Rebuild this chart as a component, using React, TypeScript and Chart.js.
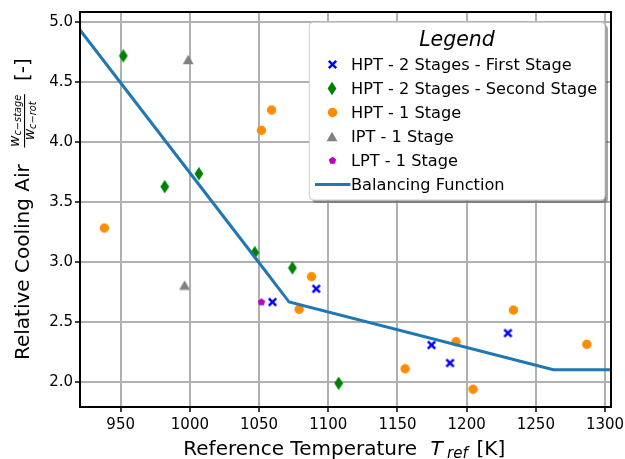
import React, { useEffect, useRef } from "react";
import { Chart, registerables } from "chart.js";

Chart.register(...registerables);

// ---------- data ----------
const xTicks = [950, 1000, 1050, 1100, 1150, 1200, 1250, 1300];
const yTicks = [2.0, 2.5, 3.0, 3.5, 4.0, 4.5, 5.0];
const xMin = 920.6;
const xMax = 1304.3;
const yMin = 1.789;
const yMax = 5.086;

const hpt2FirstX = [1059.7, 1091.3, 1174.6, 1188.0, 1229.8];
const hpt2FirstY = [2.665, 2.776, 2.306, 2.156, 2.406];

const hpt2SecondX = [951.9, 981.8, 1006.5, 1046.9, 1074.1, 1107.5];
const hpt2SecondY = [4.72, 3.628, 3.736, 3.078, 2.95, 1.987];

const hpt1X = [938.2, 1051.7, 1059.0, 1078.9, 1087.9, 1155.5, 1192.3, 1204.6, 1233.8, 1286.8];
const hpt1Y = [3.283, 4.098, 4.268, 2.604, 2.877, 2.108, 2.334, 1.937, 2.598, 2.312];

const iptX = [998.8, 996.2];
const iptY = [4.69, 2.807];

const lptX = [1051.7];
const lptY = [2.665];

const balX = [920.6, 1050.0, 1071.7, 1262.7, 1304.3];
const balY = [4.936, 2.993, 2.665, 2.1, 2.1];

const legendLabels = [
  "HPT - 2 Stages - First Stage",
  "HPT - 2 Stages - Second Stage",
  "HPT - 1 Stage",
  "IPT - 1 Stage",
  "LPT - 1 Stage",
  "Balancing Function",
];

const FONT = '"DejaVu Sans"';

function makeMarker(w: number, h: number, draw: (c: CanvasRenderingContext2D) => void) {
  const c = document.createElement("canvas");
  c.width = w;
  c.height = h;
  const ctx = c.getContext("2d")!;
  draw(ctx);
  return c;
}

function pts(xs: number[], ys: number[]) {
  return xs.map((x, i) => ({ x, y: ys[i] }));
}

export default function App() {
  const ref = useRef<HTMLCanvasElement>(null);

  useEffect(() => {
    document.body.style.margin = "0";
    const canvas = ref.current!;

    const cross = makeMarker(11, 11, (c) => {
      c.strokeStyle = "#0000ff";
      c.lineWidth = 2.5;
      c.beginPath();
      c.moveTo(1.8, 1.8);
      c.lineTo(9.2, 9.2);
      c.moveTo(9.2, 1.8);
      c.lineTo(1.8, 9.2);
      c.stroke();
    });
    const diamond = makeMarker(10, 15, (c) => {
      c.fillStyle = "#008000";
      c.beginPath();
      c.moveTo(5, 0.8);
      c.lineTo(9.4, 7.5);
      c.lineTo(5, 14.2);
      c.lineTo(0.6, 7.5);
      c.closePath();
      c.fill();
    });
    const circle = makeMarker(11, 11, (c) => {
      c.fillStyle = "#ff8c00";
      c.beginPath();
      c.arc(5.5, 5.5, 4.7, 0, Math.PI * 2);
      c.fill();
    });
    const triangle = makeMarker(12, 11, (c) => {
      c.fillStyle = "#808080";
      c.beginPath();
      c.moveTo(6, 0.7);
      c.lineTo(11.4, 10.3);
      c.lineTo(0.6, 10.3);
      c.closePath();
      c.fill();
    });
    const pentagon = makeMarker(9, 9, (c) => {
      c.fillStyle = "#bf00bf";
      c.beginPath();
      for (let i = 0; i < 5; i++) {
        const a = -Math.PI / 2 + (i * 2 * Math.PI) / 5;
        const px = 4.5 + 3.9 * Math.cos(a);
        const py = 4.7 + 3.9 * Math.sin(a);
        if (i === 0) c.moveTo(px, py);
        else c.lineTo(px, py);
      }
      c.closePath();
      c.fill();
    });

    const legendMarkers: (HTMLCanvasElement | null)[] = [cross, diamond, circle, triangle, pentagon, null];

    const decor = {
      id: "decor",
      afterDatasetsDraw(chart: any) {
        const ctx: CanvasRenderingContext2D = chart.ctx;
        const a = chart.chartArea;
        ctx.save();
        // spines
        ctx.strokeStyle = "#000";
        ctx.lineWidth = 2;
        ctx.strokeRect(a.left, a.top, a.right - a.left, a.bottom - a.top);

        // legend
        const L = { x: 309.3, y: 22.3, w: 295.7, h: 177.7 };
        ctx.fillStyle = "rgba(77,77,77,0.5)";
        ctx.beginPath();
        (ctx as any).roundRect(L.x + 3, L.y + 3, L.w, L.h, 4);
        ctx.fill();
        ctx.fillStyle = "#fff";
        ctx.strokeStyle = "#cccccc";
        ctx.lineWidth = 1;
        ctx.beginPath();
        (ctx as any).roundRect(L.x, L.y, L.w, L.h, 4);
        ctx.fill();
        ctx.stroke();

        ctx.fillStyle = "#000";
        ctx.textBaseline = "alphabetic";
        ctx.textAlign = "center";
        ctx.font = `italic 20.5px ${FONT}`;
        ctx.fillText("Legend", 457, 45.5);

        ctx.textAlign = "left";
        ctx.font = `16.2px ${FONT}`;
        legendLabels.forEach((lab, i) => {
          const cy = 64.5 + 24 * i;
          const m = legendMarkers[i];
          if (m) {
            ctx.drawImage(m, Math.round(332.3 - m.width / 2), Math.round(cy - m.height / 2));
          } else {
            ctx.strokeStyle = "#1f77b4";
            ctx.lineWidth = 3;
            ctx.beginPath();
            ctx.moveTo(315, cy);
            ctx.lineTo(350.5, cy);
            ctx.stroke();
          }
          ctx.fillStyle = "#000";
          ctx.fillText(lab, 351, cy + 5.9);
        });

        // x axis title
        ctx.fillStyle = "#000";
        ctx.font = `20px ${FONT}`;
        const base = 454.5;
        ctx.fillText("Reference Temperature", 183.3, base);
        ctx.font = `italic 20px ${FONT}`;
        ctx.fillText("T", 430.5, base);
        ctx.font = `italic 15px ${FONT}`;
        ctx.fillText("ref", 447, base + 3.5);
        ctx.font = `20px ${FONT}`;
        ctx.fillText("[K]", 476.5, base);

        // y axis title (rotated)
        ctx.translate(0, 209.5);
        ctx.rotate(-Math.PI / 2);
        ctx.font = `20px ${FONT}`;
        ctx.fillText("Relative Cooling Air", -150.5, 28.5);
        // fraction
        const fs = 14;
        const ss = 9.8;
        ctx.font = `italic ${fs}px ${FONT}`;
        const wW = ctx.measureText("w").width;
        ctx.font = `italic ${ss}px ${FONT}`;
        const numSub = "c\u2212stage";
        const denSub = "c\u2212rot";
        const nW = wW + ctx.measureText(numSub).width;
        const dW = wW + ctx.measureText(denSub).width;
        const fracStart = 62;
        const barW = Math.max(nW, dW) + 1;
        const cx = fracStart + barW / 2;
        // numerator
        let u = cx - nW / 2;
        ctx.font = `italic ${fs}px ${FONT}`;
        ctx.fillText("w", u, 19);
        ctx.font = `italic ${ss}px ${FONT}`;
        ctx.fillText(numSub, u + wW, 21);
        // bar
        ctx.fillRect(fracStart, 24, barW, 1.1);
        // denominator
        u = cx - dW / 2;
        ctx.font = `italic ${fs}px ${FONT}`;
        ctx.fillText("w", u, 34);
        ctx.font = `italic ${ss}px ${FONT}`;
        ctx.fillText(denSub, u + wW, 36.3);
        // [-]
        ctx.font = `20px ${FONT}`;
        ctx.fillText("[-]", 128.5, 28.5);
        ctx.restore();
      },
    };

    const scatterBase = { pointRadius: 5, pointHoverRadius: 5, showLine: false, order: 1 };

    const chart = new Chart(canvas, {
      type: "scatter",
      data: {
        datasets: [
          {
            type: "line",
            label: legendLabels[5],
            data: pts(balX, balY),
            borderColor: "#1f77b4",
            borderWidth: 3,
            pointRadius: 0,
            fill: false,
            tension: 0,
            order: 0,
          } as any,
          { ...scatterBase, label: legendLabels[0], data: pts(hpt2FirstX, hpt2FirstY), pointStyle: cross },
          { ...scatterBase, label: legendLabels[1], data: pts(hpt2SecondX, hpt2SecondY), pointStyle: diamond },
          { ...scatterBase, label: legendLabels[2], data: pts(hpt1X, hpt1Y), pointStyle: circle },
          { ...scatterBase, label: legendLabels[3], data: pts(iptX, iptY), pointStyle: triangle },
          { ...scatterBase, label: legendLabels[4], data: pts(lptX, lptY), pointStyle: pentagon },
        ],
      },
      options: {
        animation: false,
        responsive: false,
        layout: { padding: { left: 0, top: 12, right: 14, bottom: 0 } },
        plugins: { legend: { display: false }, tooltip: { enabled: false } },
        scales: {
          x: {
            type: "linear",
            min: xMin,
            max: xMax,
            afterBuildTicks: (s: any) => {
              s.ticks = xTicks.map((v) => ({ value: v }));
            },
            afterFit: (s: any) => {
              s.height = 52;
              s.paddingLeft = 0;
              s.paddingRight = 0;
              s.paddingTop = 0;
              s.paddingBottom = 0;
            },
            grid: { color: "#b0b0b0", lineWidth: 2, drawTicks: true, tickLength: 5, tickColor: "#000", tickWidth: 1.5 },
            border: { display: false },
            ticks: {
              font: { family: "DejaVu Sans", size: 15 },
              color: "#000",
              padding: 4,
              maxRotation: 0,
              autoSkip: false,
              callback: (v: any) => String(v),
            },
          },
          y: {
            type: "linear",
            min: yMin,
            max: yMax,
            afterBuildTicks: (s: any) => {
              s.ticks = yTicks.map((v) => ({ value: v }));
            },
            afterFit: (s: any) => {
              s.width = 80;
              s.paddingLeft = 0;
              s.paddingRight = 0;
              s.paddingTop = 0;
              s.paddingBottom = 0;
            },
            grid: { color: "#b0b0b0", lineWidth: 2, drawTicks: true, tickLength: 5, tickColor: "#000", tickWidth: 1.5 },
            border: { display: false },
            ticks: {
              font: { family: "DejaVu Sans", size: 15 },
              color: "#000",
              padding: 2,
              autoSkip: false,
              callback: (v: any) => Number(v).toFixed(1),
            },
          },
        },
      },
      plugins: [decor],
    } as any);

    return () => chart.destroy();
  }, []);

  return (
    <div style={{ width: 625, height: 459 }}>
      <canvas ref={ref} width={625} height={459} style={{ display: "block" }} />
    </div>
  );
}
